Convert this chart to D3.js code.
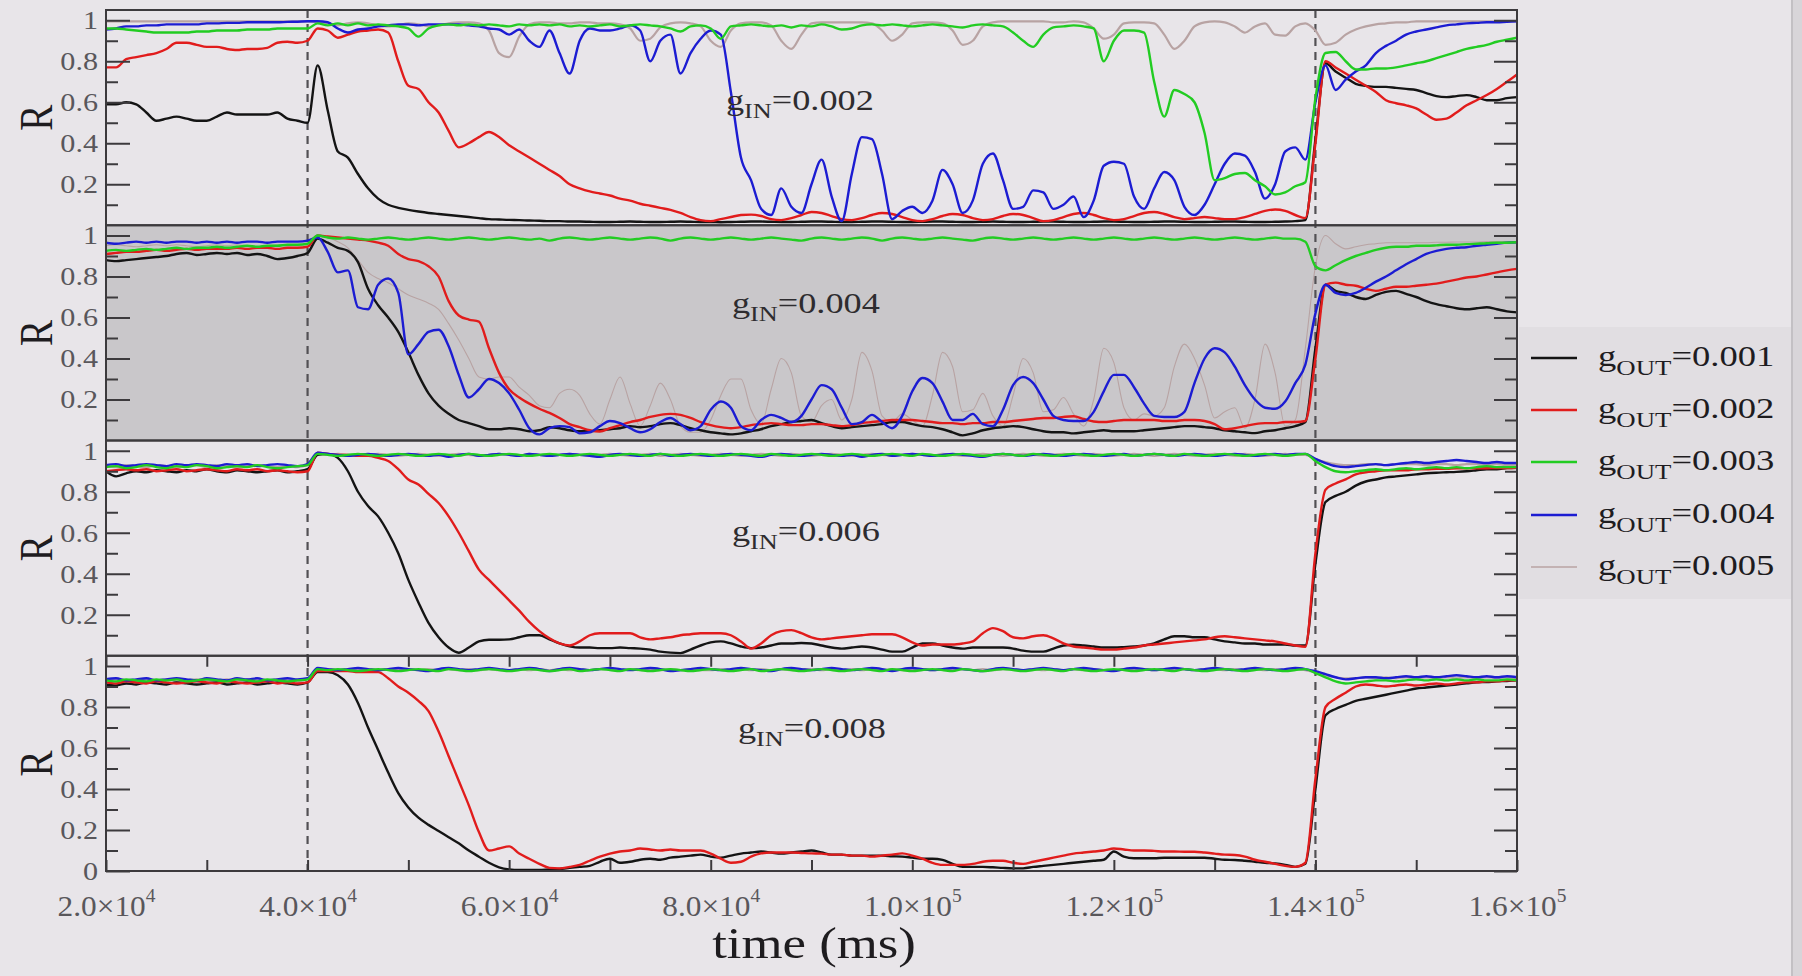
<!DOCTYPE html>
<html><head><meta charset="utf-8">
<script src="https://cdn.jsdelivr.net/npm/d3@7"></script>
<style>
html,body{margin:0;padding:0;background:#e8e5e9;overflow:hidden;}
svg{display:block;}
text{font-family:"Liberation Serif","Times New Roman",serif;}
</style></head><body>
<svg id="chart" width="1802" height="976"></svg>
<script>
// time grid in units of 1000 ms
const timeK = [20,21,22,23,24,25,26,27,28,29,30,31,32,33,34,35,36,37,38,39,40,41,42,43,44,45,46,47,48,49,50,51,52,53,54,55,56,57,58,59,60,61,62,63,64,65,66,67,68,69,70,71,72,73,74,75,76,77,78,79,80,81,82,83,84,85,86,87,88,89,90,91,92,93,94,95,96,97,98,99,100,101,102,103,104,105,106,107,108,109,110,111,112,113,114,115,116,117,118,119,120,121,122,123,124,125,126,127,128,129,130,131,132,133,134,135,136,137,138,139,140,141,142,143,144,145,146,147,148,149,150,151,152,153,154,155,156,157,158,159,160];

const seriesColors = ["#141414","#e11c1c","#22cc22","#1c1cd2","#b8a3a3"];
const legendValues = ["=0.001","=0.002","=0.003","=0.004","=0.005"];
const panelValues = ["=0.002","=0.004","=0.006","=0.008"];
const yMajor = [0,0.2,0.4,0.6,0.8,1];
const yTickLabels = ["0","0.2","0.4","0.6","0.8","1"];
const yMinor = [0.1,0.3,0.5,0.7,0.9];
const xMajor = [20000,40000,60000,80000,100000,120000,140000,160000];
const xMinor = [30000,50000,70000,90000,110000,130000,150000];
const xTickMantissa = ["2.0","4.0","6.0","8.0","1.0","1.2","1.4","1.6"];
const xTickExponent = ["4","4","4","4","5","5","5","5"];
const markTimes = [40000,140000];

// ---------- panel 1 : gIN = 0.002 ----------
const p1Black = [0.59,0.59,0.60,0.59,0.55,0.51,0.52,0.53,0.52,0.51,
0.51,0.53,0.55,0.54,0.54,0.54,0.54,0.55,0.52,0.51,
0.50,0.78,0.56,0.36,0.33,0.25,0.18,0.13,0.10,0.085,
0.075,0.067,0.06,0.055,0.05,0.045,0.04,0.035,0.03,0.028,
0.026,0.025,0.023,0.022,0.02,0.02,0.018,0.018,0.017,0.016,
0.016,0.017,0.018,0.017,0.016,0.016,0.017,0.018,0.017,0.016,
0.016,0.015,0.016,0.017,0.018,0.018,0.017,0.016,0.016,0.017,
0.018,0.018,0.017,0.016,0.016,0.017,0.018,0.018,0.017,0.016,
0.016,0.017,0.018,0.018,0.017,0.016,0.016,0.017,0.018,0.017,
0.016,0.016,0.017,0.018,0.018,0.017,0.016,0.016,0.017,0.018,
0.018,0.017,0.016,0.016,0.017,0.018,0.018,0.017,0.016,0.016,
0.017,0.018,0.018,0.017,0.016,0.016,0.017,0.018,0.02,0.025,
0.42,0.79,0.75,0.72,0.69,0.68,0.675,0.675,0.67,0.665,
0.66,0.645,0.63,0.625,0.63,0.635,0.625,0.61,0.61,0.62,
0.625];
const p1Red = [0.77,0.77,0.81,0.82,0.83,0.84,0.86,0.89,0.89,0.88,
0.87,0.87,0.86,0.855,0.86,0.86,0.865,0.89,0.895,0.89,
0.90,0.96,0.95,0.915,0.93,0.945,0.95,0.955,0.94,0.80,
0.68,0.665,0.60,0.55,0.46,0.38,0.40,0.43,0.455,0.43,
0.39,0.36,0.33,0.30,0.27,0.24,0.20,0.18,0.165,0.155,
0.145,0.13,0.12,0.105,0.095,0.085,0.075,0.06,0.04,0.025,
0.02,0.03,0.04,0.05,0.052,0.045,0.03,0.025,0.035,0.05,
0.065,0.06,0.045,0.03,0.025,0.035,0.05,0.06,0.055,0.04,
0.025,0.02,0.03,0.045,0.055,0.05,0.035,0.025,0.03,0.045,
0.055,0.05,0.035,0.02,0.025,0.04,0.055,0.06,0.05,0.035,
0.025,0.03,0.045,0.06,0.065,0.055,0.04,0.03,0.035,0.04,
0.035,0.03,0.03,0.04,0.055,0.07,0.077,0.07,0.05,0.035,
0.40,0.80,0.77,0.74,0.71,0.68,0.65,0.61,0.595,0.585,
0.57,0.54,0.515,0.52,0.55,0.585,0.61,0.635,0.665,0.70,
0.735];
const p1Green = [0.96,0.96,0.955,0.95,0.945,0.94,0.94,0.94,0.94,0.945,
0.945,0.95,0.95,0.95,0.955,0.955,0.955,0.96,0.96,0.96,
0.96,0.985,0.975,0.985,0.975,0.985,0.975,0.98,0.975,0.97,
0.96,0.92,0.96,0.975,0.98,0.975,0.98,0.975,0.98,0.975,
0.97,0.98,0.975,0.98,0.975,0.98,0.97,0.975,0.97,0.975,
0.98,0.97,0.975,0.98,0.975,0.97,0.96,0.945,0.97,0.975,
0.96,0.91,0.97,0.975,0.98,0.975,0.97,0.975,0.965,0.975,
0.97,0.98,0.97,0.955,0.96,0.975,0.98,0.975,0.98,0.975,
0.97,0.975,0.98,0.975,0.97,0.965,0.975,0.98,0.975,0.97,
0.94,0.90,0.87,0.93,0.965,0.97,0.975,0.97,0.96,0.80,
0.90,0.95,0.95,0.94,0.70,0.53,0.66,0.64,0.60,0.45,
0.22,0.23,0.25,0.255,0.22,0.19,0.15,0.16,0.19,0.21,
0.62,0.84,0.845,0.80,0.76,0.76,0.765,0.765,0.77,0.78,
0.79,0.80,0.815,0.83,0.845,0.86,0.87,0.88,0.895,0.905,
0.915];
const p1Blue = [0.955,0.96,0.97,0.97,0.975,0.975,0.98,0.98,0.98,0.98,
0.985,0.985,0.987,0.987,0.99,0.99,0.99,0.99,0.992,0.993,
0.995,0.995,0.99,0.96,0.94,0.955,0.96,0.97,0.975,0.98,
0.98,0.975,0.98,0.98,0.98,0.98,0.975,0.97,0.96,0.955,
0.93,0.955,0.90,0.87,0.95,0.84,0.74,0.90,0.96,0.95,
0.95,0.96,0.975,0.95,0.80,0.90,0.93,0.74,0.84,0.91,
0.95,0.93,0.65,0.33,0.22,0.08,0.05,0.18,0.09,0.06,
0.20,0.32,0.14,0.02,0.25,0.43,0.42,0.25,0.03,0.07,
0.09,0.06,0.12,0.27,0.20,0.06,0.12,0.30,0.35,0.22,
0.08,0.09,0.17,0.16,0.08,0.10,0.14,0.04,0.12,0.29,
0.31,0.30,0.14,0.08,0.18,0.26,0.22,0.09,0.05,0.10,
0.20,0.30,0.35,0.34,0.26,0.13,0.20,0.36,0.38,0.32,
0.60,0.78,0.66,0.71,0.75,0.78,0.84,0.875,0.90,0.93,
0.945,0.955,0.965,0.975,0.98,0.985,0.987,0.99,0.99,0.993,
0.995];
const p1Grey = [0.995,0.995,0.995,0.995,0.995,0.995,0.995,0.995,0.995,0.995,
0.995,0.995,0.995,0.995,0.995,0.995,0.995,0.995,0.995,0.995,
0.995,0.99,0.985,0.975,0.985,0.99,0.985,0.975,0.97,0.975,
0.985,0.98,0.97,0.975,0.985,0.99,0.99,0.985,0.95,0.84,
0.82,0.92,0.98,0.99,0.99,0.985,0.985,0.99,0.99,0.985,
0.985,0.98,0.96,0.90,0.91,0.965,0.985,0.99,0.985,0.97,
0.90,0.87,0.95,0.985,0.99,0.99,0.975,0.90,0.86,0.93,
0.985,0.99,0.99,0.99,0.99,0.99,0.985,0.95,0.90,0.93,
0.985,0.99,0.99,0.985,0.95,0.88,0.90,0.97,0.99,0.995,
0.995,0.995,0.995,0.995,0.99,0.99,0.995,0.99,0.96,0.91,
0.93,0.985,0.99,0.99,0.985,0.93,0.86,0.90,0.97,0.99,
0.995,0.99,0.97,0.94,0.97,0.985,0.93,0.925,0.97,0.985,
0.95,0.88,0.89,0.93,0.955,0.97,0.98,0.985,0.99,0.99,
0.995,0.995,0.995,0.995,0.995,0.995,0.995,0.995,0.995,0.995,
0.995];

// ---------- panel 2 : gIN = 0.004 ----------
const p2Black = [0.88,0.875,0.88,0.885,0.89,0.895,0.90,0.91,0.915,0.905,
0.91,0.915,0.91,0.915,0.905,0.91,0.90,0.885,0.89,0.90,
0.915,0.985,0.965,0.94,0.925,0.87,0.74,0.66,0.60,0.53,
0.43,0.32,0.23,0.17,0.13,0.10,0.085,0.07,0.055,0.055,
0.06,0.055,0.045,0.05,0.065,0.06,0.05,0.045,0.045,0.05,
0.055,0.06,0.07,0.065,0.07,0.08,0.085,0.075,0.06,0.05,
0.04,0.035,0.03,0.035,0.045,0.055,0.07,0.08,0.09,0.095,
0.10,0.085,0.07,0.06,0.065,0.07,0.075,0.08,0.09,0.09,
0.08,0.07,0.065,0.055,0.04,0.025,0.035,0.05,0.06,0.065,
0.07,0.065,0.055,0.045,0.04,0.04,0.035,0.04,0.045,0.05,
0.045,0.045,0.045,0.05,0.055,0.06,0.065,0.07,0.07,0.065,
0.06,0.05,0.045,0.04,0.036,0.045,0.05,0.06,0.07,0.09,
0.45,0.76,0.73,0.72,0.70,0.69,0.71,0.725,0.73,0.715,
0.70,0.68,0.665,0.655,0.645,0.64,0.645,0.65,0.64,0.63,
0.625];
const p2Red = [0.91,0.915,0.92,0.92,0.925,0.93,0.925,0.93,0.935,0.93,
0.935,0.935,0.935,0.94,0.935,0.94,0.94,0.935,0.94,0.94,
0.945,1.0,0.995,0.99,0.985,0.98,0.975,0.965,0.95,0.91,
0.885,0.875,0.85,0.80,0.68,0.61,0.59,0.58,0.45,0.33,
0.25,0.21,0.18,0.155,0.135,0.11,0.08,0.065,0.05,0.044,
0.06,0.075,0.09,0.10,0.115,0.125,0.13,0.125,0.11,0.09,
0.075,0.065,0.06,0.065,0.075,0.08,0.085,0.08,0.075,0.075,
0.08,0.08,0.075,0.07,0.075,0.085,0.09,0.095,0.10,0.10,
0.10,0.095,0.09,0.085,0.085,0.08,0.085,0.085,0.09,0.09,
0.095,0.10,0.105,0.11,0.11,0.115,0.118,0.105,0.093,0.09,
0.095,0.10,0.10,0.10,0.10,0.095,0.095,0.10,0.10,0.095,
0.08,0.055,0.06,0.07,0.08,0.085,0.085,0.09,0.09,0.095,
0.40,0.76,0.77,0.76,0.755,0.74,0.73,0.74,0.75,0.75,
0.755,0.76,0.765,0.775,0.785,0.795,0.80,0.81,0.82,0.83,
0.837];
const p2Green = [0.925,0.93,0.925,0.93,0.935,0.93,0.935,0.94,0.935,0.94,
0.94,0.945,0.94,0.945,0.95,0.945,0.95,0.95,0.955,0.955,
0.96,1.0,0.99,0.985,0.99,0.985,0.98,0.985,0.99,0.985,
0.98,0.985,0.99,0.985,0.98,0.985,0.99,0.985,0.98,0.985,
0.99,0.985,0.98,0.985,0.975,0.985,0.99,0.985,0.98,0.985,
0.99,0.985,0.98,0.985,0.99,0.985,0.975,0.985,0.99,0.985,
0.98,0.985,0.99,0.985,0.98,0.985,0.99,0.985,0.98,0.975,
0.985,0.99,0.985,0.98,0.985,0.99,0.985,0.975,0.985,0.99,
0.985,0.98,0.985,0.99,0.985,0.98,0.975,0.985,0.99,0.985,
0.98,0.985,0.99,0.985,0.98,0.985,0.99,0.985,0.98,0.985,
0.99,0.985,0.98,0.985,0.99,0.985,0.98,0.985,0.99,0.985,
0.98,0.985,0.99,0.985,0.98,0.985,0.99,0.985,0.985,0.97,
0.85,0.83,0.855,0.88,0.90,0.915,0.93,0.94,0.945,0.945,
0.95,0.95,0.952,0.955,0.955,0.958,0.96,0.962,0.965,0.965,
0.967];
const p2Blue = [0.965,0.96,0.965,0.97,0.965,0.97,0.965,0.97,0.97,0.965,
0.97,0.965,0.97,0.965,0.97,0.97,0.965,0.97,0.97,0.97,
0.975,0.99,0.92,0.82,0.83,0.65,0.64,0.76,0.79,0.72,
0.42,0.47,0.53,0.54,0.46,0.32,0.21,0.25,0.30,0.28,
0.23,0.15,0.06,0.03,0.06,0.07,0.065,0.035,0.04,0.07,
0.095,0.085,0.06,0.04,0.055,0.09,0.11,0.08,0.05,0.07,
0.15,0.19,0.16,0.07,0.05,0.10,0.125,0.11,0.09,0.12,
0.20,0.27,0.25,0.16,0.08,0.09,0.125,0.09,0.06,0.12,
0.24,0.305,0.28,0.19,0.10,0.10,0.13,0.08,0.07,0.15,
0.27,0.31,0.28,0.20,0.12,0.10,0.095,0.095,0.14,0.24,
0.32,0.32,0.26,0.18,0.12,0.115,0.115,0.14,0.28,0.40,
0.45,0.43,0.36,0.27,0.20,0.16,0.155,0.19,0.28,0.37,
0.62,0.76,0.72,0.71,0.72,0.745,0.775,0.80,0.83,0.86,
0.885,0.91,0.925,0.935,0.94,0.943,0.95,0.955,0.96,0.965,
0.967];
const p2Grey = [0.95,0.955,0.95,0.945,0.95,0.955,0.95,0.955,0.95,0.945,
0.95,0.955,0.95,0.955,0.95,0.945,0.95,0.955,0.95,0.955,
0.96,1.0,0.99,0.97,0.94,0.88,0.82,0.79,0.77,0.74,
0.71,0.69,0.67,0.64,0.57,0.49,0.40,0.31,0.30,0.31,
0.31,0.26,0.22,0.17,0.16,0.23,0.25,0.22,0.13,0.08,
0.20,0.31,0.18,0.07,0.17,0.28,0.20,0.07,0.04,0.04,
0.10,0.22,0.30,0.30,0.15,0.08,0.25,0.40,0.33,0.12,
0.09,0.17,0.20,0.10,0.20,0.43,0.34,0.12,0.09,0.13,
0.10,0.07,0.22,0.43,0.36,0.14,0.15,0.23,0.12,0.07,
0.22,0.40,0.33,0.14,0.15,0.21,0.13,0.07,0.20,0.45,
0.38,0.16,0.10,0.13,0.12,0.16,0.36,0.47,0.40,0.27,
0.11,0.14,0.16,0.06,0.20,0.47,0.33,0.07,0.10,0.45,
0.85,1.0,0.96,0.935,0.945,0.955,0.96,0.965,0.965,0.965,
0.965,0.965,0.967,0.967,0.968,0.968,0.968,0.97,0.97,0.97,
0.97];

// ---------- panel 3 : gIN = 0.006 ----------
const p3Black = [0.90,0.875,0.89,0.90,0.895,0.905,0.90,0.895,0.905,0.90,
0.91,0.90,0.895,0.905,0.90,0.895,0.90,0.905,0.895,0.90,
0.91,0.98,0.985,0.965,0.90,0.80,0.73,0.68,0.60,0.50,
0.37,0.26,0.16,0.09,0.04,0.015,0.04,0.07,0.078,0.078,
0.08,0.09,0.10,0.10,0.08,0.06,0.046,0.04,0.04,0.037,
0.037,0.04,0.037,0.035,0.03,0.02,0.015,0.013,0.03,0.05,
0.065,0.07,0.06,0.045,0.037,0.04,0.05,0.06,0.06,0.062,
0.06,0.05,0.04,0.035,0.04,0.045,0.04,0.03,0.02,0.02,
0.04,0.06,0.06,0.05,0.04,0.035,0.04,0.04,0.04,0.04,
0.035,0.025,0.02,0.02,0.035,0.05,0.054,0.05,0.045,0.04,
0.04,0.042,0.045,0.05,0.06,0.08,0.095,0.095,0.09,0.09,
0.08,0.07,0.065,0.06,0.06,0.055,0.055,0.055,0.05,0.05,
0.45,0.75,0.78,0.80,0.83,0.85,0.86,0.87,0.875,0.88,
0.885,0.89,0.893,0.895,0.897,0.90,0.905,0.91,0.91,0.915,
0.917];
const p3Red = [0.90,0.905,0.91,0.905,0.91,0.90,0.905,0.91,0.90,0.905,
0.91,0.905,0.90,0.91,0.905,0.91,0.90,0.905,0.90,0.895,
0.90,0.99,0.985,0.98,0.98,0.975,0.975,0.965,0.95,0.91,
0.86,0.835,0.79,0.745,0.68,0.60,0.51,0.42,0.37,0.32,
0.27,0.22,0.165,0.12,0.085,0.06,0.05,0.07,0.10,0.11,
0.11,0.11,0.11,0.09,0.08,0.085,0.09,0.10,0.105,0.11,
0.11,0.11,0.10,0.07,0.035,0.06,0.10,0.12,0.125,0.11,
0.09,0.08,0.085,0.09,0.095,0.10,0.105,0.105,0.105,0.09,
0.065,0.05,0.055,0.055,0.055,0.06,0.07,0.11,0.135,0.12,
0.09,0.085,0.095,0.10,0.085,0.06,0.045,0.04,0.035,0.03,
0.03,0.035,0.04,0.05,0.055,0.06,0.065,0.07,0.075,0.08,
0.09,0.095,0.09,0.085,0.08,0.075,0.07,0.06,0.05,0.044,
0.50,0.81,0.84,0.86,0.885,0.895,0.90,0.905,0.905,0.905,
0.91,0.91,0.912,0.912,0.914,0.914,0.915,0.915,0.916,0.916,
0.917];
const p3Green = [0.92,0.925,0.915,0.92,0.93,0.92,0.915,0.925,0.92,0.93,
0.925,0.915,0.92,0.925,0.92,0.93,0.92,0.915,0.92,0.925,
0.93,0.985,0.98,0.975,0.98,0.985,0.98,0.975,0.98,0.985,
0.98,0.975,0.98,0.985,0.98,0.975,0.985,0.98,0.975,0.98,
0.985,0.98,0.975,0.98,0.985,0.98,0.975,0.98,0.985,0.98,
0.975,0.98,0.985,0.98,0.975,0.985,0.98,0.975,0.98,0.985,
0.98,0.975,0.98,0.985,0.98,0.975,0.985,0.98,0.975,0.98,
0.985,0.98,0.975,0.98,0.985,0.98,0.975,0.98,0.985,0.98,
0.975,0.985,0.98,0.975,0.98,0.985,0.98,0.975,0.98,0.985,
0.98,0.975,0.985,0.98,0.975,0.98,0.985,0.98,0.975,0.98,
0.985,0.98,0.975,0.98,0.985,0.98,0.975,0.985,0.98,0.975,
0.98,0.985,0.98,0.975,0.98,0.985,0.98,0.975,0.98,0.985,
0.95,0.92,0.90,0.895,0.90,0.905,0.91,0.905,0.91,0.915,
0.91,0.915,0.92,0.915,0.92,0.915,0.92,0.925,0.92,0.92,
0.92];
const p3Blue = [0.93,0.935,0.925,0.93,0.935,0.93,0.925,0.935,0.93,0.935,
0.93,0.925,0.935,0.93,0.935,0.925,0.93,0.935,0.93,0.925,
0.935,0.99,0.985,0.98,0.975,0.98,0.985,0.98,0.975,0.98,
0.985,0.98,0.975,0.98,0.97,0.98,0.985,0.975,0.98,0.985,
0.98,0.975,0.985,0.98,0.975,0.98,0.985,0.98,0.975,0.97,
0.98,0.985,0.98,0.975,0.98,0.985,0.975,0.98,0.985,0.98,
0.975,0.98,0.985,0.98,0.975,0.97,0.98,0.985,0.98,0.975,
0.98,0.985,0.98,0.975,0.98,0.97,0.98,0.985,0.975,0.98,
0.985,0.98,0.975,0.98,0.985,0.98,0.975,0.97,0.98,0.985,
0.98,0.975,0.98,0.985,0.98,0.975,0.98,0.985,0.98,0.975,
0.98,0.985,0.975,0.98,0.985,0.98,0.975,0.98,0.985,0.98,
0.975,0.98,0.985,0.98,0.975,0.98,0.985,0.98,0.985,0.985,
0.96,0.94,0.925,0.92,0.925,0.93,0.935,0.93,0.935,0.94,
0.945,0.94,0.945,0.95,0.955,0.95,0.945,0.94,0.945,0.94,
0.94];
const p3Grey = [0.925,0.92,0.93,0.925,0.92,0.93,0.925,0.92,0.925,0.93,
0.92,0.93,0.925,0.92,0.925,0.93,0.925,0.92,0.925,0.92,
0.93,0.985,0.98,0.985,0.98,0.975,0.98,0.985,0.98,0.975,
0.98,0.985,0.98,0.975,0.98,0.985,0.98,0.975,0.98,0.985,
0.98,0.975,0.985,0.98,0.975,0.98,0.985,0.98,0.975,0.98,
0.985,0.98,0.975,0.98,0.985,0.975,0.98,0.985,0.98,0.975,
0.98,0.985,0.98,0.975,0.98,0.985,0.98,0.975,0.985,0.98,
0.975,0.98,0.985,0.98,0.975,0.98,0.985,0.98,0.975,0.98,
0.985,0.98,0.975,0.985,0.98,0.975,0.98,0.985,0.98,0.975,
0.98,0.985,0.98,0.975,0.98,0.985,0.98,0.975,0.985,0.98,
0.975,0.98,0.985,0.98,0.975,0.98,0.985,0.98,0.975,0.98,
0.985,0.98,0.975,0.985,0.98,0.975,0.98,0.985,0.98,0.98,
0.96,0.945,0.935,0.93,0.93,0.935,0.935,0.93,0.935,0.935,
0.935,0.93,0.935,0.935,0.93,0.935,0.935,0.93,0.935,0.93,
0.93];

// ---------- panel 4 : gIN = 0.008 ----------
const p4Black = [0.91,0.905,0.915,0.91,0.92,0.915,0.91,0.92,0.915,0.91,
0.915,0.92,0.91,0.915,0.92,0.91,0.915,0.92,0.915,0.91,
0.92,0.97,0.97,0.955,0.91,0.82,0.70,0.59,0.48,0.38,
0.31,0.26,0.225,0.195,0.165,0.135,0.10,0.07,0.04,0.018,
0.008,0.005,0.005,0.005,0.008,0.01,0.015,0.02,0.025,0.045,
0.06,0.04,0.045,0.055,0.06,0.055,0.065,0.07,0.075,0.08,
0.07,0.065,0.075,0.085,0.09,0.095,0.09,0.085,0.09,0.095,
0.10,0.09,0.08,0.08,0.075,0.075,0.075,0.075,0.072,0.07,
0.065,0.06,0.06,0.054,0.035,0.02,0.02,0.02,0.018,0.015,
0.013,0.013,0.02,0.025,0.03,0.035,0.04,0.045,0.05,0.055,
0.095,0.07,0.062,0.062,0.062,0.065,0.065,0.065,0.065,0.065,
0.06,0.055,0.054,0.05,0.045,0.04,0.037,0.03,0.02,0.035,
0.40,0.76,0.79,0.81,0.83,0.84,0.85,0.86,0.87,0.88,
0.89,0.895,0.90,0.905,0.91,0.915,0.92,0.922,0.925,0.927,
0.93];
const p4Red = [0.92,0.915,0.925,0.92,0.915,0.925,0.92,0.915,0.92,0.925,
0.92,0.915,0.925,0.92,0.915,0.92,0.925,0.915,0.92,0.915,
0.92,0.975,0.975,0.975,0.975,0.97,0.97,0.97,0.94,0.90,
0.87,0.83,0.78,0.68,0.56,0.44,0.32,0.19,0.10,0.11,
0.12,0.085,0.06,0.035,0.015,0.013,0.02,0.03,0.05,0.07,
0.085,0.095,0.10,0.11,0.105,0.10,0.105,0.10,0.10,0.10,
0.085,0.06,0.04,0.045,0.07,0.086,0.09,0.09,0.09,0.088,
0.086,0.085,0.08,0.08,0.075,0.075,0.07,0.075,0.08,0.086,
0.075,0.06,0.04,0.03,0.03,0.03,0.035,0.045,0.05,0.05,
0.04,0.035,0.045,0.055,0.065,0.075,0.085,0.09,0.095,0.10,
0.11,0.105,0.10,0.10,0.098,0.095,0.095,0.094,0.094,0.09,
0.085,0.08,0.078,0.07,0.055,0.045,0.035,0.025,0.02,0.04,
0.45,0.80,0.84,0.87,0.90,0.91,0.905,0.90,0.905,0.91,
0.905,0.91,0.915,0.91,0.915,0.92,0.92,0.925,0.925,0.93,
0.93];
const p4Green = [0.93,0.925,0.935,0.93,0.925,0.935,0.93,0.935,0.925,0.93,
0.935,0.93,0.925,0.935,0.93,0.925,0.935,0.93,0.925,0.93,
0.935,0.985,0.98,0.985,0.98,0.975,0.98,0.985,0.98,0.975,
0.98,0.985,0.98,0.975,0.985,0.98,0.975,0.98,0.985,0.98,
0.975,0.98,0.985,0.98,0.975,0.98,0.985,0.975,0.98,0.985,
0.98,0.975,0.985,0.98,0.975,0.98,0.985,0.98,0.975,0.98,
0.985,0.98,0.975,0.98,0.985,0.975,0.98,0.985,0.98,0.975,
0.98,0.985,0.98,0.975,0.98,0.985,0.98,0.975,0.985,0.98,
0.975,0.98,0.985,0.98,0.975,0.985,0.98,0.975,0.98,0.985,
0.98,0.975,0.98,0.985,0.98,0.975,0.985,0.98,0.975,0.98,
0.985,0.98,0.975,0.98,0.985,0.98,0.975,0.985,0.98,0.975,
0.98,0.985,0.98,0.975,0.98,0.985,0.98,0.975,0.98,0.985,
0.965,0.945,0.925,0.915,0.92,0.925,0.93,0.93,0.925,0.93,
0.935,0.93,0.935,0.93,0.935,0.93,0.935,0.93,0.93,0.935,
0.93];
const p4Blue = [0.935,0.94,0.93,0.935,0.94,0.93,0.935,0.94,0.935,0.93,
0.94,0.935,0.93,0.94,0.935,0.94,0.93,0.935,0.94,0.935,
0.94,0.99,0.985,0.98,0.985,0.99,0.985,0.98,0.985,0.99,
0.985,0.98,0.975,0.985,0.99,0.985,0.98,0.985,0.99,0.985,
0.98,0.985,0.99,0.985,0.975,0.985,0.99,0.985,0.98,0.985,
0.99,0.985,0.98,0.985,0.99,0.985,0.975,0.98,0.985,0.99,
0.985,0.98,0.985,0.99,0.985,0.98,0.975,0.985,0.99,0.985,
0.98,0.985,0.99,0.985,0.98,0.985,0.99,0.985,0.975,0.985,
0.99,0.985,0.98,0.985,0.99,0.985,0.98,0.975,0.985,0.99,
0.985,0.98,0.985,0.99,0.985,0.98,0.985,0.99,0.985,0.98,
0.975,0.985,0.99,0.985,0.98,0.985,0.99,0.985,0.98,0.985,
0.99,0.985,0.98,0.985,0.99,0.985,0.98,0.985,0.99,0.985,
0.975,0.96,0.945,0.935,0.94,0.945,0.945,0.94,0.945,0.95,
0.945,0.95,0.945,0.95,0.955,0.95,0.945,0.95,0.945,0.95,
0.945];
const p4Grey = [0.93,0.935,0.93,0.925,0.935,0.93,0.935,0.925,0.93,0.935,
0.93,0.925,0.935,0.93,0.935,0.93,0.925,0.935,0.93,0.925,
0.935,0.985,0.985,0.98,0.985,0.98,0.985,0.98,0.985,0.98,
0.985,0.98,0.985,0.98,0.985,0.98,0.985,0.98,0.985,0.98,
0.98,0.985,0.98,0.985,0.98,0.985,0.98,0.985,0.98,0.985,
0.985,0.98,0.985,0.98,0.985,0.98,0.985,0.98,0.985,0.98,
0.98,0.985,0.98,0.985,0.98,0.985,0.98,0.985,0.98,0.985,
0.985,0.98,0.985,0.98,0.985,0.98,0.985,0.98,0.985,0.98,
0.98,0.985,0.98,0.985,0.98,0.985,0.98,0.985,0.98,0.985,
0.985,0.98,0.985,0.98,0.985,0.98,0.985,0.98,0.985,0.98,
0.98,0.985,0.98,0.985,0.98,0.985,0.98,0.985,0.98,0.985,
0.985,0.98,0.985,0.98,0.985,0.98,0.985,0.98,0.985,0.98,
0.97,0.955,0.945,0.94,0.94,0.945,0.94,0.945,0.94,0.945,
0.94,0.945,0.94,0.945,0.94,0.945,0.94,0.945,0.94,0.945,
0.94];

// ---------- drawing ----------
const W = 1802, H = 976;
const left = 106, right = 1517, top0 = 10, panelH = 215.25;
const SX = 1.2; // horizontal text stretch of the video frame

const panels = [
  {value: panelValues[0], series: [p1Black,p1Red,p1Green,p1Blue,p1Grey], bg: null, greyW: 2.2, labelX: 726, labelY: 110},
  {value: panelValues[1], series: [p2Black,p2Red,p2Green,p2Blue,p2Grey], bg: "#c9c7ca", greyW: 1.1, labelX: 732, labelY: 313},
  {value: panelValues[2], series: [p3Black,p3Red,p3Green,p3Blue,p3Grey], bg: null, greyW: 2.2, labelX: 732, labelY: 541},
  {value: panelValues[3], series: [p4Black,p4Red,p4Green,p4Blue,p4Grey], bg: null, greyW: 2.2, labelX: 738, labelY: 738}
];

const svg = d3.select("#chart");
svg.append("rect").attr("width", W).attr("height", H).attr("fill", "#e8e5e9");
svg.append("rect").attr("x", 1791).attr("y", 0).attr("width", 11).attr("height", H).attr("fill", "#d8d5d9");
svg.append("line").attr("x1", 1792).attr("x2", 1792).attr("y1", 0).attr("y2", H).attr("stroke", "#bcb9bd").attr("stroke-width", 1.5);
svg.append("rect").attr("x", 1519).attr("y", 327).attr("width", 272).attr("height", 272).attr("fill", "#e1dee2");

const x = d3.scaleLinear().domain([20000, 160000]).range([left, right]);
const bottomAll = top0 + 4 * panelH;

function stretchText(sel, sx) {
  sel.each(function() {
    const t = d3.select(this);
    const xx = +t.attr("x") || 0, yy = +t.attr("y") || 0;
    t.attr("x", 0).attr("y", 0).attr("transform", `translate(${xx},${yy}) scale(${sx},1)`);
  });
}

// panel backgrounds
panels.forEach((p, i) => {
  const top = top0 + i * panelH;
  if (p.bg) svg.append("rect").attr("x", left).attr("y", top).attr("width", right - left).attr("height", panelH).attr("fill", p.bg);
});

// dashed markers
svg.selectAll(".mark").data(markTimes).enter().append("line")
  .attr("x1", d => x(d)).attr("x2", d => x(d)).attr("y1", top0).attr("y2", bottomAll)
  .attr("stroke", "#525054").attr("stroke-width", 2.2).attr("stroke-dasharray", "8,6");

const drawOrder = [4, 0, 1, 3, 2];

panels.forEach((p, i) => {
  const top = top0 + i * panelH, bottom = top + panelH;
  const y = d3.scaleLinear().domain([0, 1.05]).range([bottom, top]);
  const g = svg.append("g");
  const clipId = "clip" + i;
  svg.append("clipPath").attr("id", clipId).append("rect")
    .attr("x", left).attr("y", top).attr("width", right - left).attr("height", panelH);
  const line = d3.line().x((d, j) => x(timeK[j] * 1000)).y(d => y(d)).curve(d3.curveMonotoneX);
  drawOrder.forEach(k => {
    g.append("path").attr("d", line(p.series[k])).attr("fill", "none")
      .attr("stroke", seriesColors[k]).attr("stroke-width", k === 4 ? p.greyW : 2.4)
      .attr("stroke-linejoin", "round").attr("clip-path", `url(#${clipId})`);
  });

  // y axes
  const majors = i === 3 ? yMajor : yMajor.filter(v => v > 0);
  const axL = g.append("g").attr("transform", `translate(${left},0)`)
    .call(d3.axisLeft(y).tickValues(majors).tickSize(-24).tickPadding(8)
      .tickFormat(v => yTickLabels[yMajor.indexOf(v)]));
  axL.select(".domain").remove();
  axL.selectAll(".tick line").attr("stroke", "#3c3a3d").attr("stroke-width", 2);
  axL.selectAll(".tick text").attr("font-size", 26).attr("fill", "#59575b")
    .attr("font-family", "Liberation Serif, serif");
  stretchText(axL.selectAll(".tick text"), 1.16);
  const axLm = g.append("g").attr("transform", `translate(${left},0)`)
    .call(d3.axisLeft(y).tickValues(yMinor).tickSize(-12).tickFormat(""));
  axLm.select(".domain").remove();
  axLm.selectAll(".tick line").attr("stroke", "#3c3a3d").attr("stroke-width", 2);

  const axR = g.append("g").attr("transform", `translate(${right},0)`)
    .call(d3.axisRight(y).tickValues(majors).tickSize(-23).tickFormat(""));
  axR.select(".domain").remove();
  axR.selectAll(".tick line").attr("stroke", "#3c3a3d").attr("stroke-width", 2);
  const axRm = g.append("g").attr("transform", `translate(${right},0)`)
    .call(d3.axisRight(y).tickValues(yMinor).tickSize(-12).tickFormat(""));
  axRm.select(".domain").remove();
  axRm.selectAll(".tick line").attr("stroke", "#3c3a3d").attr("stroke-width", 2);

  // frame
  g.append("rect").attr("x", left).attr("y", top).attr("width", right - left).attr("height", panelH)
    .attr("fill", "none").attr("stroke", "#3c3a3d").attr("stroke-width", 2);

  // R label
  g.append("text").attr("transform", `translate(52,${(top + bottom) / 2}) scale(${SX},1) rotate(-90)`)
    .attr("text-anchor", "middle").attr("font-size", 39).attr("fill", "#1e1c1f").text("R");

  // panel label gIN
  const lt = g.append("text").attr("transform", `translate(${p.labelX},${p.labelY}) scale(1.25,1)`)
    .attr("font-size", 29).attr("fill", "#2e2c2f");
  lt.append("tspan").text("g");
  lt.append("tspan").attr("font-size", 21).attr("dy", 8).text("IN");
  lt.append("tspan").attr("dy", -8).text(p.value);

  if (i === 3) {
    const allX = xMajor.concat(xMinor);
    const axB = g.append("g").attr("transform", `translate(0,${bottom})`)
      .call(d3.axisBottom(x).tickValues(allX).tickSize(-11).tickPadding(0).tickFormat(""));
    axB.select(".domain").remove();
    axB.selectAll(".tick line").attr("stroke", "#3c3a3d").attr("stroke-width", 2);
    const axT = g.append("g").attr("transform", `translate(0,${top})`)
      .call(d3.axisTop(x).tickValues(allX).tickSize(-11).tickFormat(""));
    axT.select(".domain").remove();
    axT.selectAll(".tick line").attr("stroke", "#3c3a3d").attr("stroke-width", 2);
    // major labels
    const axLab = g.append("g").attr("transform", `translate(0,${bottom})`)
      .call(d3.axisBottom(x).tickValues(xMajor).tickSize(0).tickPadding(0).tickFormat(""));
    axLab.select(".domain").remove();
    axLab.selectAll(".tick").each(function(d) {
      const k = xMajor.indexOf(d);
      const t = d3.select(this).select("text");
      t.attr("y", 0).attr("dy", 0).attr("font-size", 29).attr("fill", "#59575b")
        .attr("transform", `translate(0,45) scale(1.08,1)`).attr("text-anchor", "middle");
      t.append("tspan").text(xTickMantissa[k] + "\u00d710");
      t.append("tspan").attr("font-size", 18).attr("dy", -14).text(xTickExponent[k]);
    });
  }
});

// x axis title
svg.append("text").attr("transform", `translate(814,958) scale(1.2,1)`).attr("text-anchor", "middle")
  .attr("font-size", 44).attr("fill", "#1e1c1f").text("time (ms)");

// legend
const legendY = [358, 410, 462, 515, 567];
const lg = svg.append("g");
legendValues.forEach((v, k) => {
  lg.append("line").attr("x1", 1531).attr("x2", 1577).attr("y1", legendY[k]).attr("y2", legendY[k])
    .attr("stroke", seriesColors[k]).attr("stroke-width", k === 4 ? 1.5 : 2.5);
  const t = lg.append("text").attr("transform", `translate(1598,${legendY[k] + 8}) scale(1.22,1)`)
    .attr("font-size", 30).attr("fill", "#1e1c1f");
  t.append("tspan").text("g");
  t.append("tspan").attr("font-size", 22).attr("dy", 9).text("OUT");
  t.append("tspan").attr("dy", -9).text(v);
});
</script>
</body></html>
